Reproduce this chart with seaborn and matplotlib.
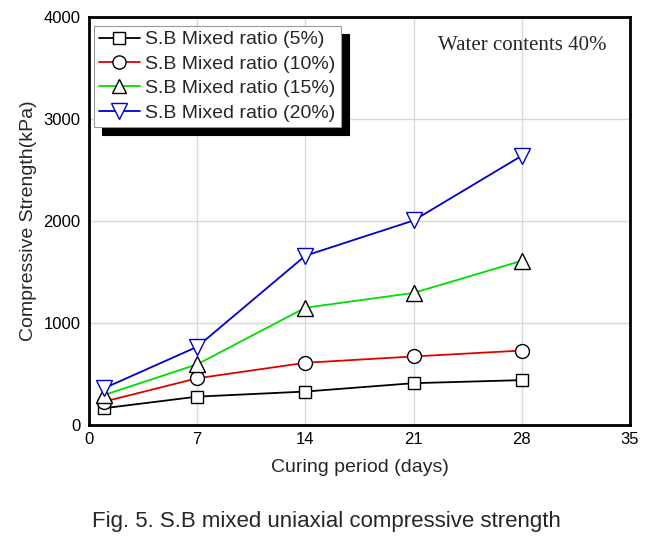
import matplotlib
matplotlib.use('Agg')
import matplotlib.pyplot as plt
import seaborn as sns
import pandas as pd

# curing days and strength values (kPa)
days = [1, 7, 14, 21, 28]
sb_5 = [165, 278, 328, 410, 440]
sb_10 = [230, 458, 610, 672, 730]
sb_15 = [295, 595, 1150, 1295, 1610]
sb_20 = [362, 767, 1660, 2005, 2640]

labels = ["S.B Mixed ratio (5%)", "S.B Mixed ratio (10%)",
          "S.B Mixed ratio (15%)", "S.B Mixed ratio (20%)"]
colors = ["black", "#e00000", "#00dd00", "#0000cc"]
markers = ["s", "o", "^", "v"]
msizes = [9, 10, 11, 12]

sns.set_theme(style="whitegrid")
plt.rcParams['font.family'] = ['Liberation Sans', 'DejaVu Sans']

fig = plt.figure(figsize=(6.56, 5.39), dpi=100)
ax = fig.add_axes([89 / 656, 1 - 425 / 539, 541 / 656, 408 / 539])

handles = []
for vals, lab, c, m, ms in zip([sb_5, sb_10, sb_15, sb_20], labels, colors, markers, msizes):
    df = pd.DataFrame({"day": days, "kpa": vals})
    sns.lineplot(data=df, x="day", y="kpa", ax=ax, color=c, marker=m, markersize=ms,
                 markerfacecolor="white", markeredgecolor="black" if m != "v" else c,
                 markeredgewidth=1.0, linewidth=1.3, label=lab, legend=False)
    handles.append(ax.lines[-1])

ax.set_xlim(0, 35)
ax.set_ylim(0, 4000)
ax.set_xticks([0, 7, 14, 21, 28, 35])
ax.set_yticks([0, 1000, 2000, 3000, 4000])
ax.tick_params(length=0, labelsize=12, colors="black")
ax.tick_params(axis="y", pad=6)
ax.tick_params(axis="x", pad=5)
ax.grid(True, color="#d8d8d8", linewidth=1)
for s in ax.spines.values():
    s.set_color("black")
    s.set_linewidth(2)
ax.set_xlabel("Curing period (days)", fontsize=14, labelpad=9)
ax.set_ylabel("Compressive Strength(kPa)", fontsize=14, labelpad=5)

leg = ax.legend(handles=handles, labels=labels, loc="upper left",
                bbox_to_anchor=(0.0, 0.99), fontsize=14, frameon=True, markerscale=0.95,
                fancybox=False, shadow={"color": "black", "ox": 6, "oy": -6, "alpha": 1},
                handlelength=2.1, handletextpad=0.3, borderpad=0.25, labelspacing=0.35,
                borderaxespad=0.25)
leg.get_frame().set_edgecolor("#999999")
leg.get_frame().set_linewidth(0.8)
leg.get_frame().set_alpha(1)

ax.text(0.957, 0.931, "Water contents 40%", transform=ax.transAxes, ha="right", va="center",
        fontsize=15, family="Liberation Serif")

fig.text(326 / 656, 1 - 521 / 539, "Fig. 5. S.B mixed uniaxial compressive strength",
         ha="center", va="center", fontsize=16)

plt.savefig("out.png", dpi=100)
plt.close()
